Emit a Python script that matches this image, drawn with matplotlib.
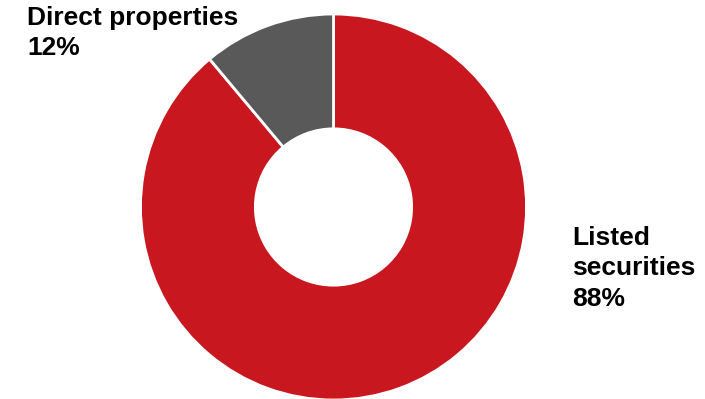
import matplotlib.pyplot as plt

# Portfolio split
labels = ['Listed\nsecurities\n88%', 'Direct properties\n12%']
shares = [88.9, 11.1]
colors = ['#C9171F', '#595959']

plt.rcParams['font.family'] = ['Liberation Sans', 'DejaVu Sans']

fig = plt.figure(figsize=(7.05, 3.99), dpi=100)
ax = fig.add_axes([0, 0, 1, 1])

ax.pie(shares, colors=colors, startangle=90, counterclock=False,
       center=(333.5, 192), radius=193,
       wedgeprops=dict(width=193 * 0.595, edgecolor='white', linewidth=2))

# pie() resets the limits, so set them afterwards (1 unit = 1 pixel)
ax.set_xlim(0, 705)
ax.set_ylim(0, 399)
ax.set_aspect('equal')
ax.axis('off')

ax.text(27, 399 - 6, labels[1], fontsize=19, fontweight='bold',
        ha='left', va='top', linespacing=1.34)
ax.text(572, 399 - 226, labels[0], fontsize=19, fontweight='bold',
        ha='left', va='top', linespacing=1.34)

fig.savefig('out.png', dpi=100)
